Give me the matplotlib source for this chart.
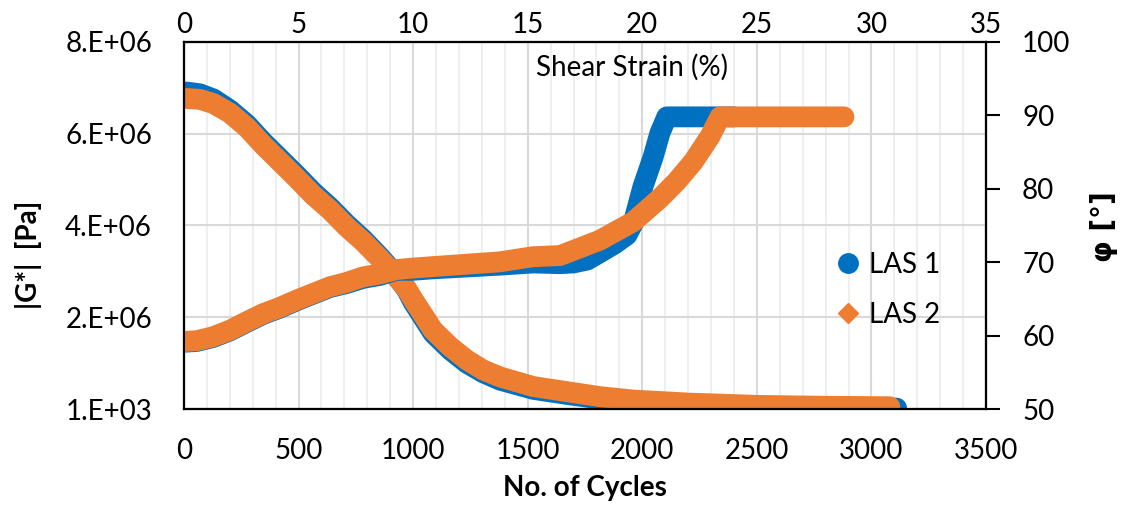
import numpy as np
import matplotlib
matplotlib.use("Agg")
import matplotlib.pyplot as plt
from matplotlib.lines import Line2D
from matplotlib.ticker import MultipleLocator, FuncFormatter

plt.rcParams['font.family'] = ['Lato', 'DejaVu Sans']

# |G*| vs cycles
g1_cycles = [0, 12, 70, 128, 201, 274, 346, 419, 492, 564, 637, 710, 782, 855, 913, 972, 1001,
             1087, 1161, 1234, 1306, 1379, 1524, 1670, 1815, 1960, 2200, 2500, 2800, 3110]
g1_pa = [6.90e6, 6.91e6, 6.87e6, 6.76e6, 6.52e6, 6.21e6, 5.82e6, 5.46e6, 5.10e6, 4.73e6, 4.40e6,
         4.03e6, 3.70e6, 3.32e6, 2.99e6, 2.60e6, 2.32e6, 1.65e6, 1.29e6, 1.00e6, 0.79e6, 0.63e6,
         0.43e6, 0.32e6, 0.22e6, 0.14e6, 0.08e6, 0.05e6, 0.03e6, 0.02e6]
g2_cycles = [0, 12, 70, 128, 201, 274, 346, 419, 492, 564, 637, 710, 782, 855, 913, 972, 1001,
             1087, 1161, 1234, 1306, 1379, 1524, 1670, 1815, 1960, 2200, 2500, 2800, 3080]
g2_pa = [6.78e6, 6.77e6, 6.75e6, 6.66e6, 6.45e6, 6.14e6, 5.75e6, 5.39e6, 5.03e6, 4.66e6, 4.34e6,
         3.97e6, 3.65e6, 3.28e6, 2.96e6, 2.62e6, 2.38e6, 1.72e6, 1.36e6, 1.07e6, 0.85e6, 0.70e6,
         0.49e6, 0.38e6, 0.27e6, 0.196e6, 0.13e6, 0.08e6, 0.06e6, 0.05e6]

# phase angle vs cycles
p1_cycles = [0, 55, 128, 201, 274, 346, 419, 492, 564, 637, 710, 782, 855, 928, 1001, 1087, 1379,
             1524, 1641, 1700, 1760, 1815, 1880, 1933, 1960, 2003, 2048, 2077, 2107, 2400]
p1_deg = [59.1, 59.2, 59.75, 60.65, 61.8, 62.9, 63.75, 64.75, 65.65, 66.55, 67.1, 67.8, 68.2, 68.9,
          68.9, 69.1, 69.6, 69.9, 69.8, 69.9, 70.3, 71.3, 72.5, 73.7, 75.3, 80.3, 84.4, 87.6, 89.8, 89.8]
p2_cycles = [0, 55, 128, 201, 274, 346, 419, 492, 564, 637, 710, 782, 855, 928, 1001, 1087, 1379,
             1524, 1641, 1815, 1960, 2077, 2150, 2223, 2295, 2339, 2600, 2880]
p2_deg = [59.2, 59.3, 59.85, 60.75, 61.9, 63.0, 63.85, 64.85, 65.75, 66.65, 67.25, 68.0, 68.4, 69.0,
          69.2, 69.4, 70.05, 70.75, 70.9, 73.0, 75.5, 78.7, 81.0, 83.7, 87.1, 89.8, 89.8, 89.8]

labels = ['LAS 1', 'LAS 2']
blue = '#0070C0'
orange = '#ED7D31'

fig = plt.figure(figsize=(11.21, 5.18), dpi=100)
ax = fig.add_axes([184/1121, 1-409/518, 802/1121, 367/518])
ax_top = ax.twiny()
ax2 = ax.twinx()

# grid on main axes
ax.set_xlim(0, 3500)
ax.set_ylim(1000, 8.001e6)
ax.xaxis.set_major_locator(MultipleLocator(500))
ax.xaxis.set_minor_locator(MultipleLocator(100))
ax.set_yticks([1000, 2.001e6, 4.001e6, 6.001e6, 8.001e6])
ax.yaxis.set_major_formatter(FuncFormatter(lambda v, p: format(v, '#.0E')))
ax.grid(True, which='major', axis='both', color='#D9D9D9', lw=1.5)
ax.grid(True, which='minor', axis='x', color='#EFEFEF', lw=1.5)
ax.set_axisbelow(True)
ax.tick_params(axis='both', which='both', length=0, labelsize=20)
ax.tick_params(axis='y', pad=23)
ax.tick_params(axis='x', pad=21)

lw = 15
style = dict(lw=lw, solid_capstyle='round', solid_joinstyle='round')
ax.plot(g1_cycles, g1_pa, color=blue, **style)
ax.plot(g2_cycles, g2_pa, color=orange, **style)

ax.set_xlabel('No. of Cycles', fontsize=20, fontweight='bold')
ax.xaxis.set_label_coords(0.5, -0.18)
ax.set_ylabel('|G*|  [Pa]', fontsize=20, fontweight='bold')
ax.yaxis.set_label_coords(-0.177, 0.42)

# top axis: shear strain
ax_top.set_xlim(0, 35)
ax_top.xaxis.set_major_locator(MultipleLocator(5))
ax_top.tick_params(axis='x', length=0, labelsize=20, pad=3)
ax.text(0.559, 0.93, 'Shear Strain (%)', transform=ax.transAxes, ha='center', va='center', fontsize=20)

# right axis: phase angle
ax2.set_ylim(50, 100)
ax2.yaxis.set_major_locator(MultipleLocator(10))
ax2.tick_params(axis='y', direction='out', length=10, width=1.5, labelsize=20, pad=16)
ax2.plot(p1_cycles, p1_deg, color=blue, **style)
ax2.plot(p2_cycles, p2_deg, color=orange, **style)
ax2.set_ylabel('φ [°]', fontsize=20, fontweight='bold', family=['DejaVu Sans'])
ax2.yaxis.set_label_coords(1.13, 0.496)

for a in (ax, ax_top, ax2):
    for s in a.spines.values():
        s.set_color('black')
        s.set_linewidth(1.5)

handles = [Line2D([], [], marker='o', ls='none', color=blue, markersize=14),
           Line2D([], [], marker='D', ls='none', color=orange, markersize=10.5)]
ax2.legend(handles, labels, loc='upper left', bbox_to_anchor=((834-184)/802, 0.428),
           frameon=False, fontsize=20, handlelength=1.0, handletextpad=0.25,
           labelspacing=0.87, borderpad=0, borderaxespad=0)

fig.savefig('out.png', dpi=100)
